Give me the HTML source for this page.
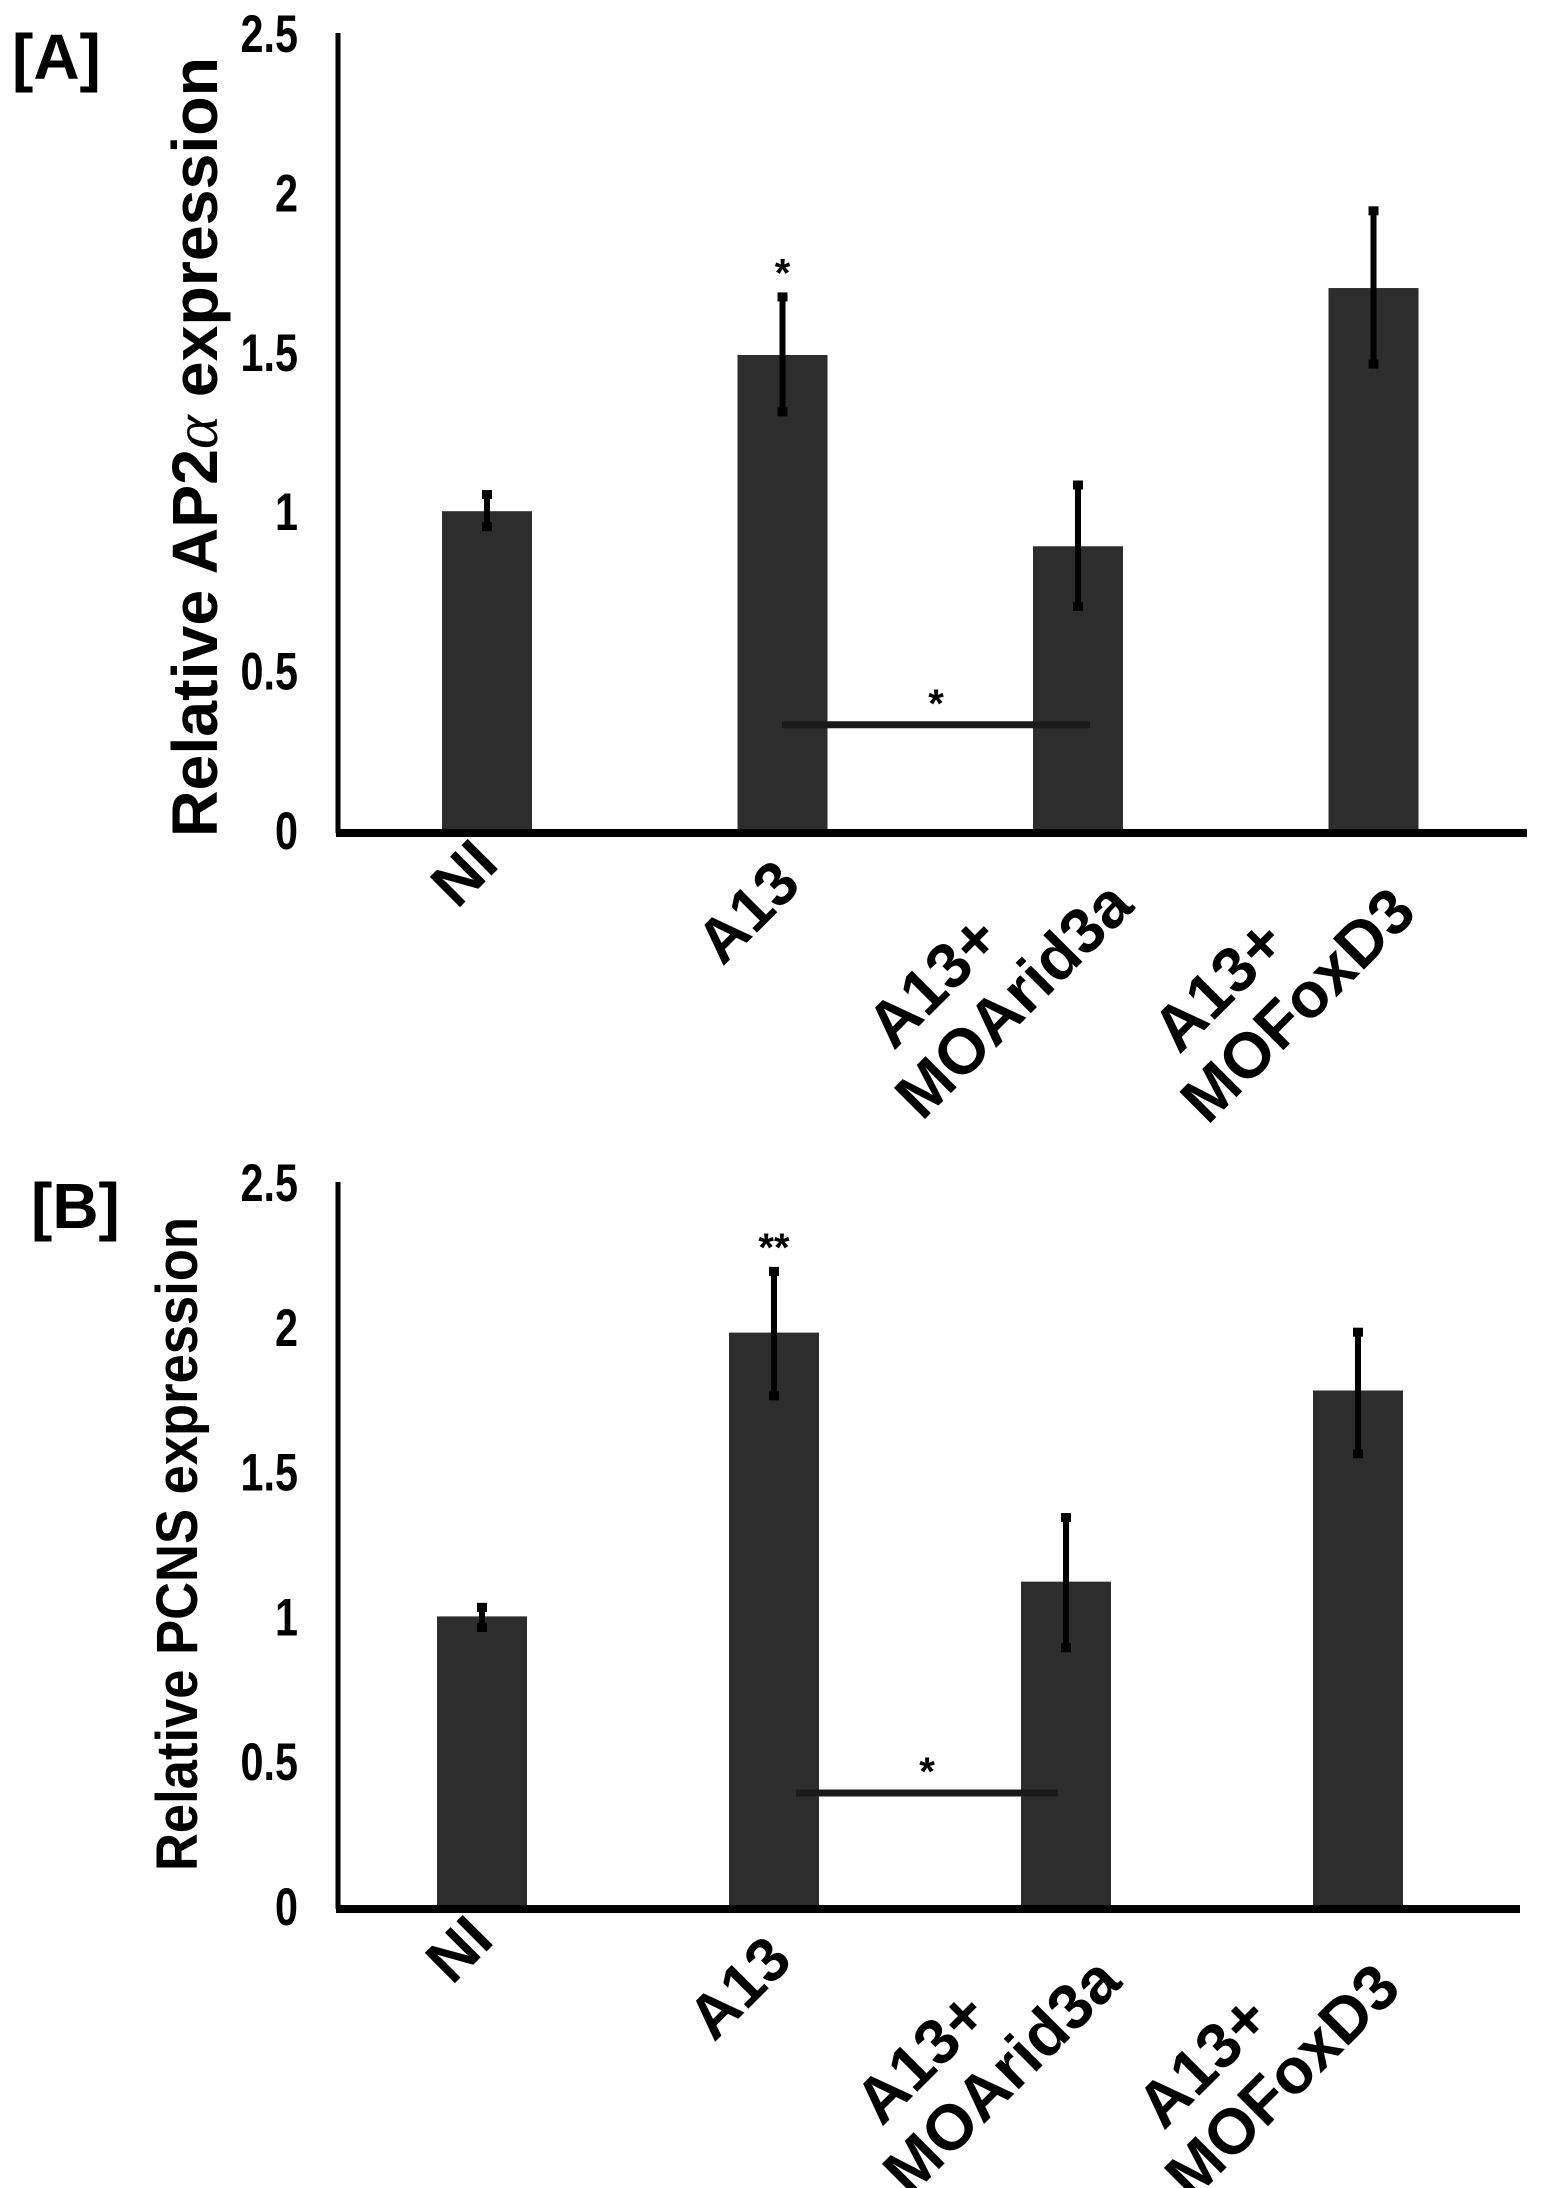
<!DOCTYPE html>
<html><head><meta charset="utf-8"><style>
html,body{margin:0;padding:0;background:#fff;}
svg{display:block;}
text{font-family:"Liberation Sans",sans-serif;font-weight:bold;fill:#000;}
</style></head><body>
<svg id="fig" width="1548" height="2188" viewBox="0 0 1548 2188"></svg>
<script>
const categories = ["NI","A13","A13+|MOArid3a","A13+|MOFoxD3"];
const ticks = [0,0.5,1,1.5,2,2.5];
const tickLabels = ["0","0.5","1","1.5","2","2.5"];
const valuesA = [1.0,1.49,0.89,1.70];
const errLowA = [0.95,1.31,0.70,1.46];
const errHighA = [1.06,1.68,1.09,1.95];
const valuesB = [1.0,1.98,1.12,1.78];
const errLowB = [0.96,1.76,0.89,1.56];
const errHighB = [1.04,2.20,1.35,1.99];
const sigA = [0.33];
const sigB = [0.39];

// label start offsets (layout, relative to bar centre / baseline)
const labelDX = [-30,-60,-156,-166];
const labelDY = [80,137,292,296];

const NS="http://www.w3.org/2000/svg";
const svg=document.getElementById('fig');
function el(tag,attrs,parent){const e=document.createElementNS(NS,tag);for(const k in attrs)e.setAttribute(k,attrs[k]);(parent||svg).appendChild(e);return e;}

function panel(cfg){
  const g=el('g',{});
  
  
  const y=v=>cfg.y0-(v/2.5)*(cfg.y0-cfg.yTop);
  const x=i=>cfg.barX0+i*cfg.step;
  const pl=el('text',{x:cfg.letterX,y:cfg.letterY,'font-size':64},g);pl.textContent=cfg.letter;
  
  
  const yt=el('text',{x:0,y:0,'font-size':cfg.titleSize,'text-anchor':'middle',textLength:cfg.titleLen,lengthAdjust:'spacingAndGlyphs',transform:`translate(${cfg.titleX},${cfg.titleY}) rotate(-90)`},g);
  yt.innerHTML=cfg.title;
  
  
  const lx=cfg.axisX-40;
  ticks.forEach((t,i)=>{
    const tl=el('text',{x:0,y:0,'font-size':53,'text-anchor':'end',transform:`translate(${lx},${y(t)+19}) scale(0.78,1)`},g);
    tl.textContent=tickLabels[i];
    
    
  });
  cfg.values.forEach((v,i)=>{
    const b=el('rect',{x:x(i),y:y(v),width:cfg.barW,height:cfg.y0-y(v),fill:'#2d2d2d'},g);
    
    
    const cx=x(i)+cfg.barW/2;
    const e=el('line',{x1:cx,x2:cx,y1:y(cfg.hi[i]),y2:y(cfg.lo[i]),stroke:'#000','stroke-width':6},g);
    
    
    el('rect',{x:cx-5,y:y(cfg.hi[i])-2,width:10,height:9,fill:'#000'},g);
    el('rect',{x:cx-5,y:y(cfg.lo[i])-5,width:10,height:9,fill:'#000'},g);
    const parts=categories[i].split('|');
    const lt=el('text',{'font-size':parts.length>1?64:62,transform:`translate(${cx+labelDX[i]},${cfg.y0+labelDY[i]}) rotate(-45)`},g);
    
    
    if(parts.length>1){
      const t1=el('tspan',{x:30,y:-70},lt);t1.textContent=parts[0];
      const t2=el('tspan',{x:0,y:0},lt);t2.textContent=parts[1];
    } else { lt.textContent=parts[0]; }
  });
  const ya=el('line',{x1:cfg.axisX,x2:cfg.axisX,y1:cfg.yTop,y2:cfg.y0+3,stroke:'#000','stroke-width':5},g);
  
  const xa=el('line',{x1:cfg.axisX-2,x2:cfg.axisEnd,y1:cfg.y0+3,y2:cfg.y0+3,stroke:'#000','stroke-width':8},g);
  
  const sl=el('line',{x1:cfg.sigX1,x2:cfg.sigX2,y1:y(cfg.sig[0]),y2:y(cfg.sig[0]),stroke:'#1a1a1a','stroke-width':7},g);
  
  const s1=el('text',{x:(cfg.sigX1+cfg.sigX2)/2,y:y(cfg.sig[0])-8,'font-size':40,'font-weight':'normal','text-anchor':'middle'},g);
  s1.textContent='*';
  const s2=el('text',{x:x(1)+cfg.barW/2,y:y(cfg.hi[1])-8,'font-size':40,'font-weight':'normal','text-anchor':'middle'},g);
  s2.textContent=cfg.star;
}
panel({name:'panel-a',letter:'[A]',letterX:12,letterY:79,title:'Relative AP2<tspan font-style="italic" font-weight="normal" font-family="Liberation Serif">α</tspan>  expression',titleX:217,titleY:447,titleLen:780,titleSize:64,
  axisX:338,axisEnd:1527,y0:830,yTop:33,barX0:442,step:295.5,barW:90,values:valuesA,lo:errLowA,hi:errHighA,sig:sigA,sigX1:782,sigX2:1090,star:'*'});
panel({name:'panel-b',letter:'[B]',letterX:31,letterY:1228,title:'Relative PCNS expression',titleX:197,titleY:1544,titleLen:654,titleSize:58,
  axisX:338,axisEnd:1520,y0:1906,yTop:1182,barX0:437,step:292,barW:90,values:valuesB,lo:errLowB,hi:errHighB,sig:sigB,sigX1:796,sigX2:1058,star:'**'});
</script>
</body></html>
